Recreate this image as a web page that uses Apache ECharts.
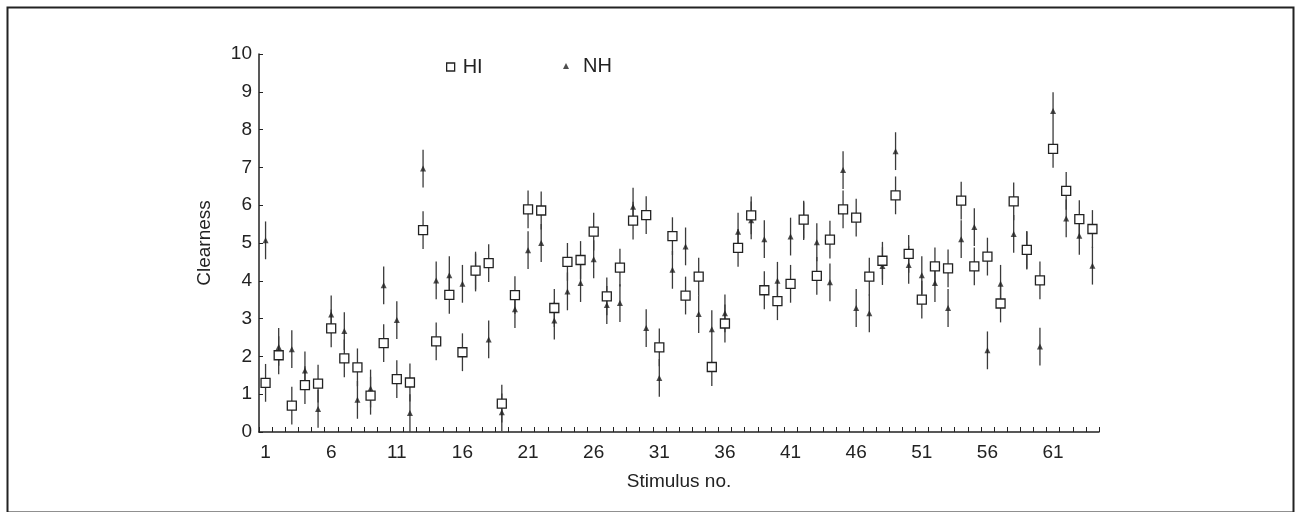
<!DOCTYPE html>
<html>
<head>
<meta charset="utf-8">
<script src="https://cdn.jsdelivr.net/npm/echarts@6/dist/echarts.min.js"></script>
<style>
html,body{margin:0;padding:0;background:#fff;}
#chart{width:1299px;height:512px;}
</style>
</head>
<body>
<div id="chart"></div>
<script>
// Stimulus numbers (categories)
const stimuli = ['1','2','3','4','5','6','7','8','9','10','11','12','13','14','15','16',
  '17','18','19','20','21','22','23','24','25','26','27','28','29','30','31','32',
  '33','34','35','36','37','38','39','40','41','42','43','44','45','46','47','48',
  '49','50','51','52','53','54','55','56','57','58','59','60','61','62','63','64'];

// Mean clearness, hearing-impaired listeners (open squares)
const hiMean = [1.30,2.03,0.70,1.24,1.28,2.74,1.95,1.71,0.96,2.35,1.40,1.31,5.34,2.40,3.63,2.11,
  4.27,4.47,0.75,3.62,5.89,5.86,3.28,4.50,4.55,5.30,3.59,4.35,5.59,5.74,2.24,5.18,
  3.61,4.11,1.72,2.87,4.87,5.73,3.75,3.46,3.92,5.62,4.13,5.09,5.89,5.67,4.11,4.53,
  6.26,4.71,3.50,4.38,4.33,6.12,4.38,4.64,3.40,6.10,4.82,4.01,7.49,6.38,5.63,5.37];

// Mean clearness, normal-hearing listeners (triangles)
const nhMean = [5.07,2.25,2.19,1.63,0.61,3.11,2.67,0.85,1.15,3.88,2.96,0.50,6.97,4.01,4.15,3.92,
  4.22,2.45,0.52,3.25,4.81,5.00,2.95,3.72,3.94,4.57,3.36,3.41,5.96,2.75,1.43,4.29,
  4.91,3.12,2.72,3.14,5.30,5.60,5.10,4.00,5.17,5.58,5.02,3.96,6.93,3.28,3.14,4.39,
  7.43,4.42,4.15,3.94,3.28,5.10,5.42,2.16,3.92,5.24,4.80,2.26,8.49,5.65,5.19,4.40];

// Error bar half-widths (read as roughly constant)
const hiErr = 0.5;
const nhErr = 0.5;

// Y tick values
const yTicks = [0,1,2,3,4,5,6,7,8,9,10];

const FONT = 'Liberation Sans, Arial, sans-serif';
const INK = '#222';

function errData(means, err) {
  return means.map((v, i) => [i, Math.max(0, v - err), v + err]);
}
function errRender(params, api) {
  const x = api.value(0);
  const lo = api.coord([x, api.value(1)]);
  const hi = api.coord([x, api.value(2)]);
  return {
    type: 'line',
    shape: {x1: lo[0], y1: lo[1], x2: hi[0], y2: hi[1]},
    style: {stroke: '#3a3a3a', lineWidth: 1.3}
  };
}

const chart = echarts.init(document.getElementById('chart'), null, {renderer: 'canvas'});
chart.setOption({
  animation: false,
  backgroundColor: '#fff',
  textStyle: {fontFamily: FONT, color: INK},
  graphic: [{
    type: 'rect', left: 5, top: 5, z: 100, silent: true,
    shape: {width: 1286, height: 505},
    style: {fill: 'none', stroke: INK, lineWidth: 2}
  }],
  legend: [{
    left: 441, top: 52, itemWidth: 8, itemHeight: 8, itemGap: 10,
    textStyle: {fontFamily: FONT, fontSize: 20, color: INK, padding: [0,0,0,3]},
    data: [{name: 'HI', icon: 'rect', itemStyle: {color: '#fff', borderColor: INK, borderWidth: 1.3}}]
  }, {
    left: 558, top: 51, itemWidth: 6, itemHeight: 6, itemGap: 10,
    textStyle: {fontFamily: FONT, fontSize: 20, color: INK, padding: [0,0,0,9]},
    data: [{name: 'NH', icon: 'triangle', itemStyle: {color: INK}}]
  }],
  grid: {left: 259, right: 200, top: 54, bottom: 80, containLabel: false},
  xAxis: {
    type: 'category',
    data: stimuli,
    boundaryGap: true,
    name: 'Stimulus no.',
    nameLocation: 'middle',
    nameGap: 40,
    nameTextStyle: {fontFamily: FONT, fontSize: 19, color: INK},
    axisLine: {lineStyle: {color: INK, width: 1.5}},
    axisTick: {show: true, inside: true, length: 5, interval: 0, alignWithLabel: false, lineStyle: {color: INK, width: 1}},
    axisLabel: {interval: 4, margin: 11, fontFamily: FONT, fontSize: 19, color: INK},
    splitLine: {show: false}
  },
  yAxis: {
    type: 'value',
    min: 0, max: 10, interval: 1,
    name: 'Clearness',
    nameLocation: 'middle',
    nameGap: 45,
    nameTextStyle: {fontFamily: FONT, fontSize: 19, color: INK},
    axisLine: {show: true, lineStyle: {color: INK, width: 1.5}},
    axisTick: {show: true, inside: true, length: 4, lineStyle: {color: INK, width: 1}},
    axisLabel: {margin: 7, fontFamily: FONT, fontSize: 19, color: INK,
      formatter: v => yTicks.indexOf(v) >= 0 ? String(v) : ''},
    splitLine: {show: false}
  },
  series: [
    {name: 'HI-err', type: 'custom', renderItem: errRender, data: errData(hiMean, hiErr), z: 2, clip: true,
      encode: {x: 0, y: [1, 2]}},
    {name: 'NH-err', type: 'custom', renderItem: errRender, data: errData(nhMean, nhErr), z: 2, clip: true,
      encode: {x: 0, y: [1, 2]}},
    {name: 'NH', type: 'scatter', data: nhMean, symbol: 'triangle', symbolSize: [6, 6], z: 4,
      itemStyle: {color: INK}},
    {name: 'HI', type: 'scatter', data: hiMean, symbol: 'rect', symbolSize: 9, z: 5,
      itemStyle: {color: '#fff', borderColor: INK, borderWidth: 1.3, opacity: 1}}
  ]
});
</script>
</body>
</html>
